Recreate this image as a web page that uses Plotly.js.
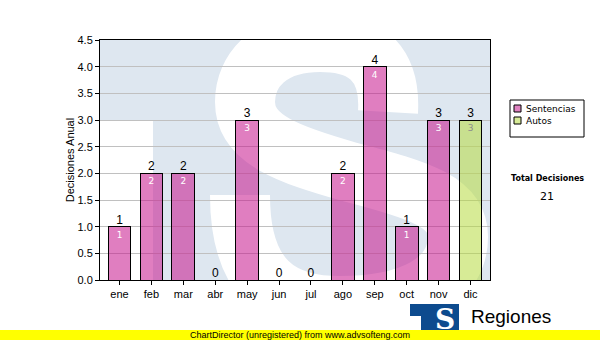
<!DOCTYPE html>
<html>
<head>
<meta charset="utf-8">
<script src="https://cdn.plot.ly/plotly-3.0.1.min.js"></script>
<style>html,body{margin:0;padding:0;background:#fff;}#chart{width:600px;height:340px;}</style>
</head>
<body>
<div id="chart"></div>
<script>
// ---- data ----
const months = ['ene','feb','mar','abr','may','jun','jul','ago','sep','oct','nov','dic'];
const sentencias = [1,2,2,0,3,0,0,2,4,1,3,0];
const autos = [0,0,0,0,0,0,0,0,0,0,0,3];
const yTickVals = [0,0.5,1,1.5,2,2.5,3,3.5,4,4.5];
const seriesNames = ['Sentencias','Autos'];

const totals = months.map((m,i)=>sentencias[i]+autos[i]);
const totalDecisiones = totals.reduce((a,b)=>a+b,0);

// ---- decoration helpers (plot area is 100..490 x 40..280 px) ----
const PX = x => (x-100)/390;
const PY = y => (280-y)/240;

const pink = 'rgba(198,20,140,0.55)';
const green = 'rgba(182,218,64,0.55)';

const svg = '<svg xmlns="http://www.w3.org/2000/svg" width="390" height="240" viewBox="0 0 390 240" preserveAspectRatio="none">' +
  '<rect width="390" height="240" fill="#dee7f0"/>' +
  '<rect x="0" y="80" width="53" height="160" fill="#ffffff"/>' +
  '<path d="M 288 72 C 291 20, 262 2, 220 2 C 170 2, 145 30, 145 62 C 145 100, 190 115, 250 132 C 320 150, 358 162, 358 197 C 358 242, 310 266, 240 266 C 180 266, 140 240, 140 155" fill="none" stroke="#ffffff" stroke-width="60"/>' +
  '</svg>';

const traces = [
  {
    type:'bar', name: seriesNames[0], x: months,
    y: sentencias.map(v => v ? v : null),
    text: sentencias.map(v => v ? String(v) : ''),
    textposition:'inside', insidetextanchor:'end', textangle:0,
    textfont:{color:'#ffffff', size:9, family:'DejaVu Sans'},
    marker:{color:pink, line:{color:'#000', width:1}},
    hoverinfo:'skip', showlegend:false
  },
  {
    type:'bar', name: seriesNames[1], x: months,
    y: autos.map(v => v ? v : null),
    text: autos.map(v => v ? String(v) : ''),
    textposition:'inside', insidetextanchor:'end', textangle:0,
    textfont:{color:'#8c8c8c', size:9, family:'DejaVu Sans'},
    marker:{color:green, line:{color:'#000', width:1}},
    hoverinfo:'skip', showlegend:false
  },
  {
    type:'scatter', mode:'text', x: months, y: totals,
    text: totals.map(String), textposition:'top center',
    textfont:{color:'#000', size:12, family:'Liberation Sans'},
    hoverinfo:'skip', showlegend:false, cliponaxis:false
  }
];

const layout = {
  width:600, height:340,
  margin:{l:100, r:110, t:40, b:60, pad:0},
  paper_bgcolor:'#ffffff', plot_bgcolor:'rgba(0,0,0,0)',
  font:{family:'Liberation Sans', size:11, color:'#000'},
  barmode:'stack', bargap:0.29,
  showlegend:false,
  xaxis:{
    type:'category', categoryorder:'array', categoryarray: months,
    showline:true, linecolor:'#000', linewidth:1, mirror:true,
    ticks:'outside', ticklen:4, tickcolor:'#000',
    tickfont:{size:11, family:'Liberation Sans', color:'#000'},
    showgrid:false, zeroline:false, fixedrange:true
  },
  yaxis:{
    range:[0,4.5], tickvals: yTickVals, tickformat:'.1f',
    showline:true, linecolor:'#000', linewidth:1, mirror:true,
    ticks:'outside', ticklen:4, tickcolor:'#000',
    tickfont:{size:11, family:'Liberation Sans', color:'#000'},
    showgrid:true, gridcolor:'#c0c0c0', gridwidth:1, zeroline:false,
    title:{text:'Decisiones Anual', font:{size:11, family:'Liberation Sans', color:'#000'}, standoff:0},
    automargin:false, fixedrange:true
  },
  images:[{
    source:'data:image/svg+xml;charset=utf-8,' + encodeURIComponent(svg),
    xref:'paper', yref:'paper', x:0, y:1, sizex:1, sizey:1,
    xanchor:'left', yanchor:'top', sizing:'stretch', layer:'below'
  }],
  shapes:[
    // legend box
    {type:'rect', xref:'paper', yref:'paper', x0:PX(510), x1:PX(584), y0:PY(137), y1:PY(100),
     line:{color:'#000', width:1}, fillcolor:'#fff', layer:'above'},
    {type:'rect', xref:'paper', yref:'paper', x0:PX(514), x1:PX(521), y0:PY(112), y1:PY(105),
     line:{color:'#000', width:1}, fillcolor:'#e083c2', layer:'above'},
    {type:'rect', xref:'paper', yref:'paper', x0:PX(514), x1:PX(521), y0:PY(124), y1:PY(117),
     line:{color:'#000', width:1}, fillcolor:'#d8ec98', layer:'above'},
    // yellow footer band
    {type:'rect', xref:'paper', yref:'paper', x0:PX(0), x1:PX(600), y0:PY(340), y1:PY(330),
     line:{width:0}, fillcolor:'#ffff00', layer:'above'},
    // logo T
    {type:'rect', xref:'paper', yref:'paper', x0:PX(410), x1:PX(459), y0:PY(316), y1:PY(304),
     line:{width:0}, fillcolor:'#0d4b8e', layer:'above'},
    {type:'rect', xref:'paper', yref:'paper', x0:PX(421), x1:PX(459), y0:PY(330), y1:PY(316),
     line:{width:0}, fillcolor:'#0d4b8e', layer:'above'}
  ],
  annotations:[
    {xref:'paper', yref:'paper', x:PX(524), y:PY(108.5), xanchor:'left', yanchor:'middle', showarrow:false,
     text: seriesNames[0], font:{family:'DejaVu Sans', size:9, color:'#000'}},
    {xref:'paper', yref:'paper', x:PX(524), y:PY(120.5), xanchor:'left', yanchor:'middle', showarrow:false,
     text: seriesNames[1], font:{family:'DejaVu Sans', size:9, color:'#000'}},
    {xref:'paper', yref:'paper', x:PX(547), y:PY(178), xanchor:'center', yanchor:'middle', showarrow:false,
     text:'<b>Total Decisiones</b>', font:{family:'DejaVu Sans', size:8, color:'#000'}},
    {xref:'paper', yref:'paper', x:PX(547), y:PY(196), xanchor:'center', yanchor:'middle', showarrow:false,
     text: String(totalDecisiones), font:{family:'DejaVu Sans', size:11, color:'#000'}},
    {xref:'paper', yref:'paper', x:PX(300), y:PY(335), xanchor:'center', yanchor:'middle', showarrow:false,
     text:'ChartDirector (unregistered) from www.advsofteng.com', font:{family:'Liberation Sans', size:9, color:'#000'}},
    {xref:'paper', yref:'paper', x:PX(469), y:PY(316), xanchor:'left', yanchor:'middle', showarrow:false,
     text:'Regiones', font:{family:'Liberation Sans', size:19, color:'#000'}},
    {xref:'paper', yref:'paper', x:PX(445), y:PY(319), xanchor:'center', yanchor:'middle', showarrow:false,
     text:'<b>S</b>', font:{family:'DejaVu Serif', size:28, color:'#ffffff'}}
  ]
};

Plotly.newPlot('chart', traces, layout, {staticPlot:true, displayModeBar:false});
</script>
</body>
</html>
